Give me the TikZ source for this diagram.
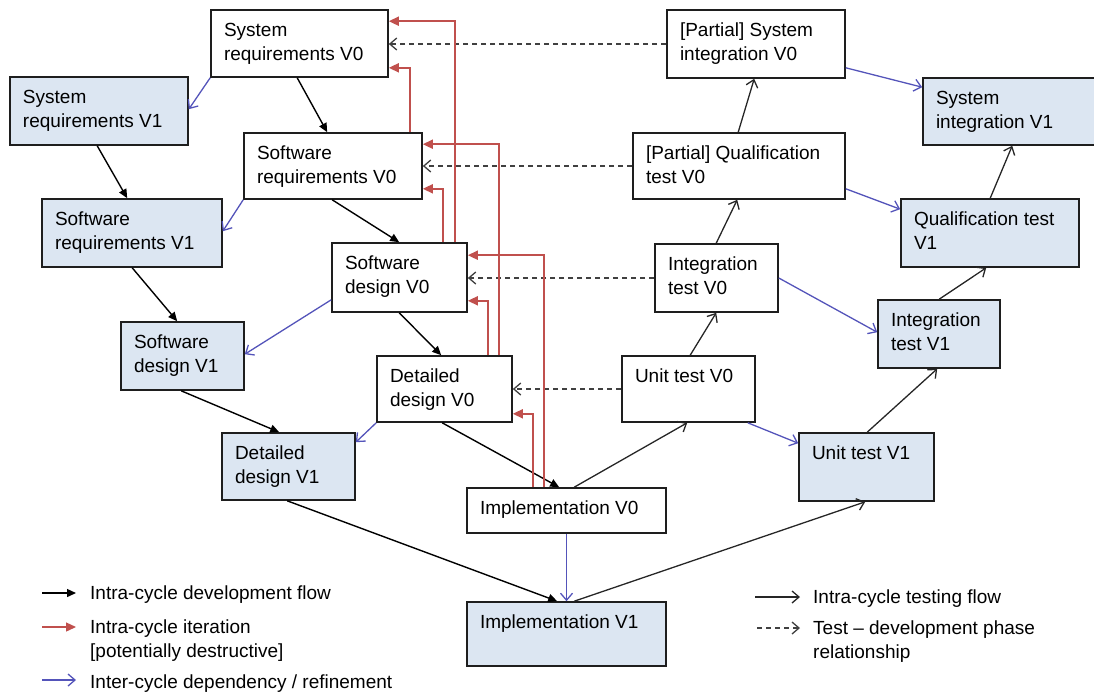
\documentclass[tikz,border=0pt]{standalone}
\usepackage{fontspec}
\setmainfont{Liberation Sans}
\usetikzlibrary{arrows.meta}

\definecolor{vonefill}{HTML}{DCE6F2}
\definecolor{iterred}{HTML}{C0504D}
\definecolor{refblue}{HTML}{5454BA}
\definecolor{dashgray}{HTML}{404040}
\definecolor{boxline}{HTML}{1E1E1E}

% \phasebox{style}{name}{x1}{y1}{x2}{y2}{text}: a box with fixed corners,
% its text set top-left inside it
\newcommand\phasebox[7]{%
  \pgfmathsetmacro\pbw{#5-#3}\pgfmathsetmacro\pbh{#6-#4}%
  \node[#1, minimum width=\pbw pt, minimum height=\pbh pt] (#2)
    at ({(#3+#5)/2},{(#4+#6)/2})
    {\parbox[c][\dimexpr\pbh pt-20pt\relax][t]{\dimexpr\pbw pt-26pt\relax}{\raggedright\strut #7}};}

\begin{document}
\begin{tikzpicture}[x=1pt,y=-1pt,
  phase/.style={draw=boxline, line width=1.6pt, inner xsep=13pt, inner ysep=10pt,
    font=\fontsize{19}{24}\selectfont},
  vzero/.style={phase, fill=white},
  vone/.style={phase, fill=vonefill},
  devflow/.style={draw=black, line width=1.4pt, -{Triangle[length=9pt,width=8pt]}},
  testflow/.style={draw=black!85, line width=1.3pt,
    -{Straight Barb[length=7pt,width=12pt,line width=1.3pt]}},
  relflow/.style={draw=dashgray, line width=1.3pt, dash pattern=on 5pt off 4pt,
    -{Straight Barb[length=7pt,width=12pt,line width=1.3pt,sep=0pt]}},
  iterflow/.style={draw=iterred, line width=1.8pt, -{Triangle[length=10pt,width=9pt]}},
  refine/.style={draw=refblue, line width=1.3pt,
    -{Straight Barb[length=7pt,width=12pt,line width=1.3pt]}},
  legendtext/.style={anchor=base west, inner sep=0pt, align=left,
    font=\fontsize{19}{24}\selectfont}
]
\useasboundingbox (0,0) rectangle (1094,694);

% development phases, cycle V0
\phasebox{vzero}{sr0}{211}{10}{388}{77}{System\\requirements V0}
\phasebox{vzero}{swr0}{244}{133}{422}{199}{Software\\requirements V0}
\phasebox{vzero}{swd0}{332}{243}{467}{312}{Software\\design V0}
\phasebox{vzero}{dd0}{377}{356}{512}{422}{Detailed\\design V0}
\phasebox{vzero}{im0}{467}{488}{666}{533}{Implementation V0}
% testing phases, cycle V0
\phasebox{vzero}{ut0}{622}{356}{755}{422}{Unit test V0}
\phasebox{vzero}{it0}{655}{244}{778}{312}{Integration\\test V0}
\phasebox{vzero}{qt0}{633}{133}{845}{199}{[Partial] Qualification\\test V0}
\phasebox{vzero}{si0}{667}{10}{845}{78}{[Partial] System\\integration V0}

% development phases, cycle V1
\phasebox{vone}{sr1}{10}{77}{188}{145}{System\\requirements V1}
\phasebox{vone}{swr1}{42}{199}{222}{267}{Software\\requirements V1}
\phasebox{vone}{swd1}{121}{322}{244}{390}{Software\\design V1}
\phasebox{vone}{dd1}{222}{433}{355}{500}{Detailed\\design V1}
\phasebox{vone}{im1}{467}{602}{666}{666}{Implementation V1}
% testing phases, cycle V1
\phasebox{vone}{ut1}{799}{433}{934}{501}{Unit test V1}
\phasebox{vone}{it1}{878}{300}{1000}{368}{Integration\\test V1}
\phasebox{vone}{qt1}{901}{199}{1079}{267}{Qualification test\\V1}
\phasebox{vone}{si1}{923}{78}{1098}{145}{System\\integration V1}

% intra-cycle development flow
\draw[devflow] ([xshift=87pt]sr0.south west) -- ([xshift=84pt]swr0.north west);
\draw[devflow] ([xshift=89pt]swr0.south west) -- ([xshift=68pt]swd0.north west);
\draw[devflow] ([xshift=68pt]swd0.south west) -- ([xshift=65pt]dd0.north west);
\draw[devflow] ([xshift=66pt]dd0.south west) -- ([xshift=93pt]im0.north west);
\draw[devflow] ([xshift=88pt]sr1.south west) -- ([xshift=86pt]swr1.north west);
\draw[devflow] ([xshift=91pt]swr1.south west) -- ([xshift=57pt]swd1.north west);
\draw[devflow] ([xshift=61pt]swd1.south west) -- ([xshift=58pt]dd1.north west);
\draw[devflow] ([xshift=66pt]dd1.south west) -- ([xshift=91pt]im1.north west);

% intra-cycle testing flow
\draw[testflow] ([xshift=108pt]im0.north west) -- ([xshift=66pt]ut0.south west);
\draw[testflow] ([xshift=69pt]ut0.north west) -- ([xshift=62pt]it0.south west);
\draw[testflow] ([xshift=62pt]it0.north west) -- ([xshift=105pt]qt0.south west);
\draw[testflow] ([xshift=106pt]qt0.north west) -- ([xshift=88pt]si0.south west);
\draw[testflow] ([xshift=108pt]im1.north west) -- ([xshift=67pt]ut1.south west);
\draw[testflow] ([xshift=69pt]ut1.north west) -- ([xshift=60pt]it1.south west);
\draw[testflow] ([xshift=62pt]it1.north west) -- ([xshift=86pt]qt1.south west);
\draw[testflow] ([xshift=90pt]qt1.north west) -- ([xshift=90pt]si1.south west);

% test - development phase relationships
\draw[relflow] (si0.west) -- (si0.west -| sr0.east);
\draw[relflow] (qt0.west) -- (qt0.west -| swr0.east);
\draw[relflow] (it0.west) -- (it0.west -| swd0.east);
\draw[relflow] (ut0.west) -- (ut0.west -| dd0.east);

% inter-cycle dependency / refinement
\draw[refine] (sr0.south west) -- ([yshift=-33pt]sr1.north east);
\draw[refine] (swr0.south west) -- ([yshift=-33pt]swr1.north east);
\draw[refine] ([yshift=13pt]swd0.south west) -- ([yshift=-33pt]swd1.north east);
\draw[refine] (dd0.south west) -- ([yshift=-10pt]dd1.north east);
\draw[refine] (im0.south) -- (im1.north);
\draw[refine] ([yshift=11pt]si0.south east) -- ([yshift=-10pt]si1.north west);
\draw[refine] ([yshift=11pt]qt0.south east) -- ([yshift=-11pt]qt1.north west);
\draw[refine] (it0.east) -- ([yshift=-33pt]it1.north west);
\draw[refine] ([xshift=-8pt]ut0.south east) -- ([yshift=-11pt]ut1.north west);

% intra-cycle iterations
\draw[iterflow] ([xshift=124pt]swd0.north west) |- ([yshift=-12pt]sr0.north east);
\draw[iterflow] ([xshift=167pt]swr0.north west) |- ([yshift=10pt]sr0.south east);
\draw[iterflow] ([xshift=123pt]dd0.north west) |- ([yshift=-12pt]swr0.north east);
\draw[iterflow] ([xshift=112pt]swd0.north west) |- ([yshift=11pt]swr0.south east);
\draw[iterflow] ([xshift=78pt]im0.north west) |- ([yshift=-13pt]swd0.north east);
\draw[iterflow] ([xshift=112pt]dd0.north west) |- ([yshift=12pt]swd0.south east);
\draw[iterflow] ([xshift=67pt]im0.north west) |- ([yshift=9pt]dd0.south east);

% legend, left column
\coordinate (ldA) at (42,593);  \coordinate (ldB) at (76,593);
\coordinate (liA) at (42,627);  \coordinate (liB) at (76,627);
\coordinate (lrA) at (42,680);  \coordinate (lrB) at (76,680);
\draw[devflow] (ldA) -- (ldB);
\draw[iterflow, line width=1.3pt] (liA) -- (liB);
\draw[refine] (lrA) -- (lrB);
\node[legendtext] (ldT) at (90,599) {Intra-cycle development flow};
\node[legendtext] (liT) at (90,657) {Intra-cycle iteration\\{[potentially destructive]}};
\node[legendtext] (lrT) at (90,688) {Inter-cycle dependency / refinement};

% legend, right column
\coordinate (ltA) at (755,597); \coordinate (ltB) at (800,597);
\coordinate (lpA) at (757,628); \coordinate (lpB) at (800,628);
\draw[testflow] (ltA) -- (ltB);
\draw[relflow] (lpA) -- (lpB);
\node[legendtext] (ltT) at (813,603) {Intra-cycle testing flow};
\node[legendtext] (lpT) at (813,658) {Test -- development phase\\relationship};
\end{tikzpicture}
\end{document}
